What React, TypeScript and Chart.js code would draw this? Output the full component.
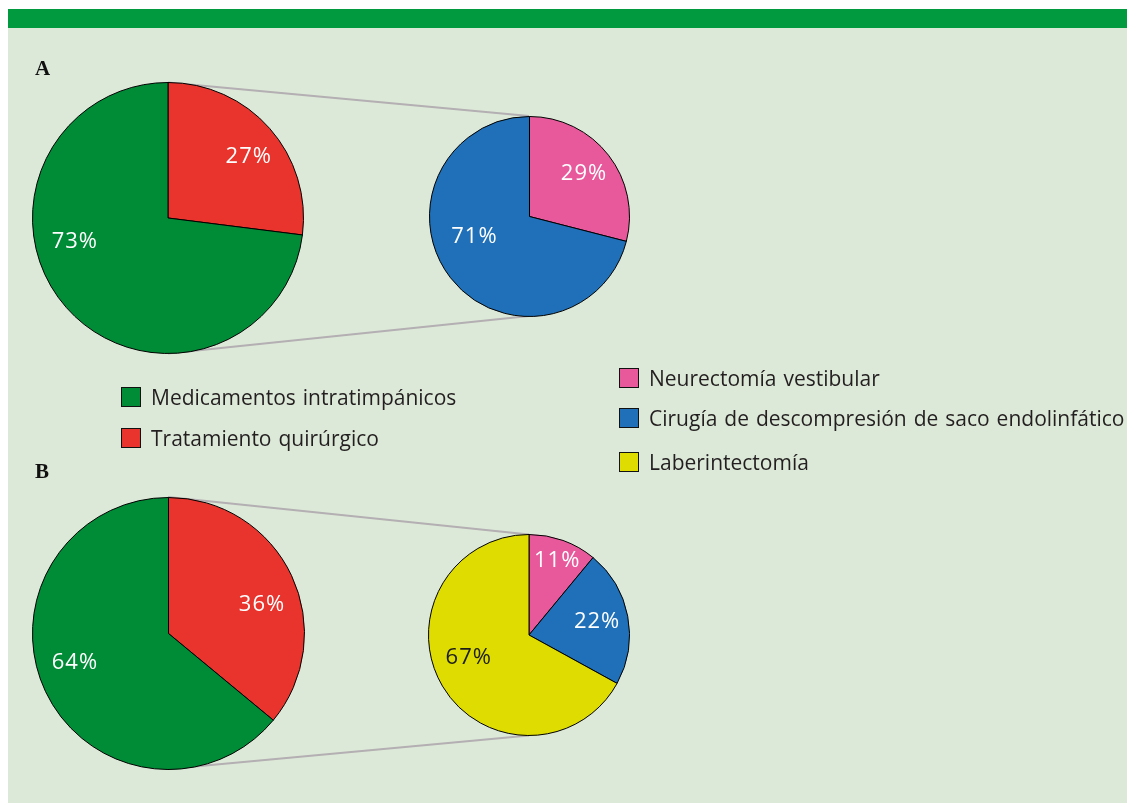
import React, { useEffect, useRef } from "react";
import { Chart, registerables } from "chart.js";
Chart.register(...registerables);

// ---- data ----
const treatmentLabels = ["Tratamiento quirúrgico", "Medicamentos intratimpánicos"];
const treatmentA = [27, 73];
const treatmentB = [36, 64];
const surgeryLabelsA = ["Neurectomía vestibular", "Cirugía de descompresión de saco endolinfático"];
const surgeryA = [29, 71];
const surgeryLabelsB = ["Neurectomía vestibular", "Cirugía de descompresión de saco endolinfático", "Laberintectomía"];
const surgeryB = [11, 22, 67];
const legendLeft = ["Medicamentos intratimpánicos", "Tratamiento quirúrgico"];
const legendRight = ["Neurectomía vestibular", "Cirugía de descompresión de saco endolinfático", "Laberintectomía"];

// ---- styles ----
const COLORS: Record<string, string> = {
  "Medicamentos intratimpánicos": "#008c37",
  "Tratamiento quirúrgico": "#e8342c",
  "Neurectomía vestibular": "#e8599c",
  "Cirugía de descompresión de saco endolinfático": "#1f70b8",
  "Laberintectomía": "#dedc00",
};
const LABEL_COLORS: Record<string, string> = {
  "Laberintectomía": "#1d1d1b",
};
const FONT = "'Open Sans', Lato, sans-serif";
const BG = "#dde9d8";
const OX = 8; // panel offset
const OY = 8;

// label placement: [angle shift (deg) from mid angle, radius fraction]
const placeBigA = [[4, 0.75], [27, 0.71]];
const placeSmallA = [[0, 0.69], [18, 0.585]];
const placeBigB = [[8, 0.72], [8, 0.72]];
const placeSmallB = [[1, 0.79], [0, 0.69], [10, 0.64]];

const pctPlugin = {
  id: "pctLabels",
  afterDatasetsDraw(chart: any) {
    const place = chart.options.plugins.pctLabels.place as number[][];
    const ds = chart.data.datasets[0];
    const labels = chart.data.labels as string[];
    const total = (ds.data as number[]).reduce((a: number, b: number) => a + b, 0);
    const meta = chart.getDatasetMeta(0);
    const ctx = chart.ctx;
    ctx.save();
    ctx.font = `22px ${FONT}`;
    try {
      (ctx as any).letterSpacing = "1px";
    } catch (e) {}
    ctx.textAlign = "center";
    ctx.textBaseline = "middle";
    meta.data.forEach((arc: any, i: number) => {
      const p = arc.getProps(["x", "y", "startAngle", "endAngle", "outerRadius"], true);
      const mid = (p.startAngle + p.endAngle) / 2 + (place[i][0] * Math.PI) / 180;
      const r = p.outerRadius * place[i][1];
      const x = p.x + Math.cos(mid) * r;
      const y = p.y + Math.sin(mid) * r;
      ctx.fillStyle = LABEL_COLORS[labels[i]] || "#ffffff";
      const v = Math.round((ds.data[i] / total) * 100);
      ctx.fillText(`${v}%`, x, y);
    });
    ctx.restore();
  },
};

type PieSpec = {
  labels: string[];
  values: number[];
  place: number[][];
  left: number;
  top: number;
  size: number;
};

const pies: PieSpec[] = [
  { labels: treatmentLabels, values: treatmentA, place: placeBigA, left: 24, top: 74, size: 272 },
  { labels: surgeryLabelsA, values: surgeryA, place: placeSmallA, left: 420.5, top: 107.5, size: 201 },
  { labels: treatmentLabels, values: treatmentB, place: placeBigB, left: 23.5, top: 488.5, size: 273 },
  { labels: surgeryLabelsB, values: surgeryB, place: placeSmallB, left: 420, top: 526, size: 202 },
];

function Legend({ items, left, top, gap }: { items: string[]; left: number; top: number; gap: number[] }) {
  return (
    <>
      {items.map((t, i) => (
        <div
          key={t}
          style={{
            position: "absolute",
            left: left + OX,
            top: top + gap[i] + OY,
            display: "flex",
            alignItems: "center",
            height: 22,
            whiteSpace: "nowrap",
          }}
        >
          <span
            style={{
              display: "inline-block",
              width: 18,
              height: 18,
              background: COLORS[t],
              border: "1.5px solid #111",
              marginRight: 10,
              flex: "none",
            }}
          />
          <span style={{ font: `21px ${FONT}`, color: "#231f20", wordSpacing: "1.5px" }}>{t}</span>
        </div>
      ))}
    </>
  );
}

export default function App() {
  const refs = useRef<(HTMLCanvasElement | null)[]>([]);
  const bgRef = useRef<HTMLCanvasElement | null>(null);

  useEffect(() => {
    const html = document.documentElement;
    html.style.overflow = "hidden";
    html.style.background = BG;
    document.body.style.margin = "0";
    document.body.style.overflow = "hidden";
    const charts = pies.map((p, i) => {
      const c = refs.current[i]!;
      return new Chart(c, {
        type: "pie",
        data: {
          labels: p.labels,
          datasets: [
            {
              data: p.values,
              backgroundColor: p.labels.map((l) => COLORS[l]),
              borderColor: "#000000",
              borderWidth: 1,
            },
          ],
        },
        options: {
          animation: false,
          responsive: false,
          maintainAspectRatio: false,
          events: [],
          layout: { padding: 0 },
          plugins: {
            legend: { display: false },
            tooltip: { enabled: false },
            // @ts-ignore
            pctLabels: { place: p.place },
          },
        },
        plugins: [pctPlugin],
      });
    });

    // connector lines
    const bg = bgRef.current!;
    const ctx = bg.getContext("2d")!;
    ctx.clearRect(0, 0, bg.width, bg.height);
    const geo = charts.map((ch, i) => {
      const a: any = ch.getDatasetMeta(0).data[0];
      return { x: pies[i].left + a.x, y: pies[i].top + a.y, r: a.outerRadius };
    });
    ctx.strokeStyle = "#b3afb2";
    ctx.lineWidth = 2;
    [[0, 1], [2, 3]].forEach(([b, s]) => {
      const B = geo[b], S = geo[s];
      ctx.beginPath();
      ctx.moveTo(B.x, B.y - B.r);
      ctx.lineTo(S.x, S.y - S.r);
      ctx.moveTo(B.x, B.y + B.r);
      ctx.lineTo(S.x, S.y + S.r);
      ctx.stroke();
    });

    return () => charts.forEach((c) => c.destroy());
  }, []);

  return (
    <div style={{ position: "relative", width: "100%", height: 803, overflow: "hidden", background: BG }}>
      <div style={{ position: "absolute", left: 0, top: 0, right: 0, height: OY + 1, background: "#ffffff" }} />
      <div style={{ position: "absolute", left: 0, top: 0, width: OX, bottom: 0, background: "#ffffff" }} />
      <div style={{ position: "absolute", left: OX, top: OY + 1, right: 0, height: 19, background: "#029a3f" }} />
      <canvas ref={bgRef} width={1119} height={795} style={{ position: "absolute", left: OX, top: OY }} />
      {pies.map((p, i) => (
        <canvas
          key={i}
          ref={(el) => {
            refs.current[i] = el;
          }}
          width={p.size}
          height={p.size}
          style={{ position: "absolute", left: p.left + OX, top: p.top + OY, width: p.size, height: p.size }}
        />
      ))}
      <div style={{ position: "absolute", left: 27 + OX, top: 48 + OY, font: "bold 21px 'Liberation Serif', serif", color: "#111" }}>A</div>
      <div style={{ position: "absolute", left: 27 + OX, top: 451 + OY, font: "bold 21px 'Liberation Serif', serif", color: "#111" }}>B</div>
      <Legend items={legendLeft} left={113} top={378} gap={[0, 41]} />
      <Legend items={legendRight} left={611} top={359} gap={[0, 40, 84]} />
    </div>
  );
}
